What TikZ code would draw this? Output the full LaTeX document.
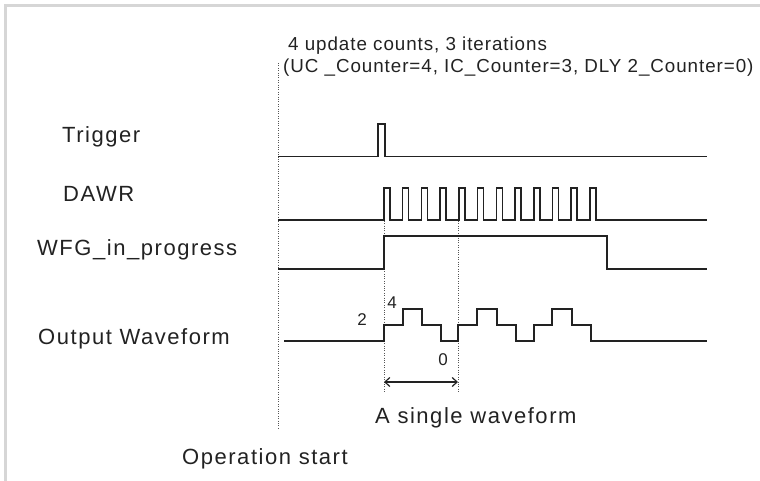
\documentclass[tikz,border=0pt]{standalone}
\usepackage{fontspec}
\setmainfont{Liberation Sans}
\newfontfamily\labfont[LetterSpace=7]{Liberation Sans}
\newfontfamily\hdrfont[LetterSpace=5]{Liberation Sans}
\usetikzlibrary{arrows.meta}
\definecolor{framegray}{HTML}{D6D6D6}
\definecolor{wave}{HTML}{222222}
\definecolor{dotc}{HTML}{555555}
\tikzset{
  wavestyle/.style={draw=wave, line width=1.5pt, line join=miter},
  guide/.style={draw=dotc, line width=0.9pt, dash pattern=on 1pt off 1.4pt},
  lab/.style={inner sep=0pt, anchor=west, text=wave, font=\labfont\fontsize{22}{24}\selectfont},
  hdr/.style={inner sep=0pt, anchor=west, text=wave, font=\hdrfont\fontsize{18.8}{22}\selectfont},
  num/.style={inner sep=0pt, text=wave, font=\fontsize{17}{19}\selectfont},
}
\begin{document}
\begin{tikzpicture}[x=1pt,y=-1pt]
\useasboundingbox (0,0) rectangle (760,481);
% frame
\draw[framegray, line width=2.6pt] (5.3,481) -- (5.3,5.3) -- (760,5.3);

% guide lines
\coordinate (g0t) at (278,63);
\coordinate (g0b) at (278,428);
\draw[guide] (g0t) -- (g0b);
\coordinate (g1t) at (384,192);
\coordinate (g1b) at (384,393);
\draw[guide] (g1t) -- (g1b);
\coordinate (g2t) at (458,192);
\coordinate (g2b) at (458,393);
\draw[guide] (g2t) -- (g2b);

% header texts
\node[hdr] (hdr1) at (288,46) {4 update counts, 3 iterations};
\node[hdr] (hdr2) at (283,68) {(UC \_Counter=4, IC\_Counter=3, DLY 2\_Counter=0)};

% signal names
\node[lab] (trig) at (62,137) {Trigger};
\node[lab] (dawr) at (63,194) {DAWR};
\node[lab] (wfg) at (37,250) {WFG\_in\_progress};
\node[lab] (outw) at (38,339) {Output Waveform};

% Trigger
\draw[wavestyle] (278,156.5) -- (378,156.5) -- (378,124) -- (385,124) -- (385,156.5) -- (707,156.5);

% DAWR
\draw[wavestyle] (278,220) -- (384,220)
  \foreach \k in {0,...,11} {
    -- ({384+\k*18.72},220) -- ({384+\k*18.72},188) -- ({390+\k*18.72},188) -- ({390+\k*18.72},220)
  } -- (707,220);

% WFG_in_progress
\draw[wavestyle] (278,269) -- (384,269) -- (384,236) -- (607,236) -- (607,269) -- (707,269);

% Output waveform
\draw[wavestyle] (284,341) -- (384,341) -- (384,325) -- (403,325) -- (403,309) -- (422,309)
  -- (422,325) -- (441,325) -- (441,341) -- (458,341) -- (458,325) -- (477,325)
  -- (477,309) -- (497,309) -- (497,325) -- (516,325) -- (516,341) -- (534,341)
  -- (534,325) -- (552,325) -- (552,309) -- (572,309) -- (572,325) -- (591,325)
  -- (591,341) -- (707,341);

% level numbers
\node[num] (n2) at (362,320) {2};
\node[num] (n4) at (392,303) {4};
\node[num] (n0) at (443,360) {0};

% single waveform arrow
\coordinate (ws) at (384,382);
\coordinate (we) at (458,382);
\draw[draw=wave, line width=1.2pt, {Straight Barb[length=5pt,width=9pt]}-{Straight Barb[length=5pt,width=9pt]}] (ws) -- (we);
\node[lab] (single) at (375,418) {A single waveform};
\node[lab] (opstart) at (182,459) {Operation start};
\end{tikzpicture}
\end{document}
